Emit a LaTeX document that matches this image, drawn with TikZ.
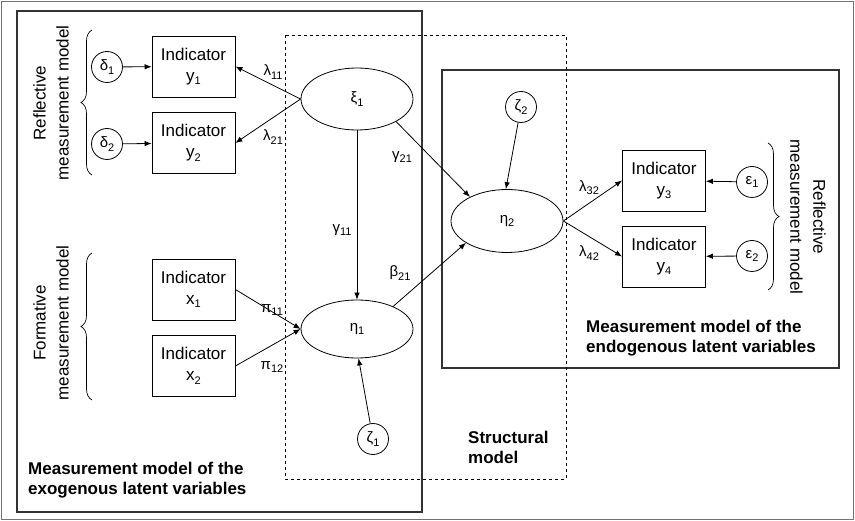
\documentclass[tikz,border=0pt]{standalone}
\usepackage{fontspec}
\setmainfont{Liberation Sans}
\usetikzlibrary{arrows.meta,shapes.geometric,decorations.pathreplacing}
\newcommand\sbs[1]{\raisebox{-0.4ex}{\fontsize{11}{11}\selectfont #1}}
\begin{document}
\begin{tikzpicture}[x=1pt,y=-1pt,
  ind/.style={draw, line width=0.8pt, minimum width=83pt, minimum height=61pt, inner sep=0pt, align=center, font=\fontsize{17}{21}\selectfont},
  err/.style={draw, circle, line width=0.8pt, minimum size=31pt, inner sep=0pt, font=\fontsize{15}{15}\selectfont},
  lat/.style={draw, ellipse, line width=0.8pt, minimum width=112pt, minimum height=62pt, inner sep=0pt, font=\fontsize{15}{15}\selectfont},
  arr/.style={-{Latex[length=7pt,width=5.5pt]}, line width=0.8pt},
  lbl/.style={font=\fontsize{15}{15}\selectfont, inner sep=0pt},
  captxt/.style={font=\bfseries\fontsize{17}{20}\selectfont, align=left, anchor=north west, inner sep=0pt},
  side/.style={font=\fontsize{17}{23}\selectfont, align=center, inner sep=0pt},
  brc/.style={decorate, decoration={brace, amplitude=11pt}, line width=0.7pt},
  frame/.style={draw=black!80, line width=1.2pt}
]
\useasboundingbox (0,0) rectangle (855,521);
\draw[draw=black!55, line width=1.5pt] (1.5,1.5) rectangle (853.5,519.5);
% model boxes
\draw[frame] (17,11) rectangle (422,512);
\draw[frame] (442,70) rectangle (839,368);
\draw[dashed, line width=0.8pt] (285,35) rectangle (566,479);
% indicators
\node[ind] (y1) at (193.5,66.5) {Indicator\\y\sbs{1}};
\node[ind] (y2) at (193.5,143) {Indicator\\y\sbs{2}};
\node[ind] (x1) at (193.5,289.5) {Indicator\\x\sbs{1}};
\node[ind] (x2) at (193.5,366) {Indicator\\x\sbs{2}};
\node[ind] (y3) at (664,180.5) {Indicator\\y\sbs{3}};
\node[ind] (y4) at (664,256.5) {Indicator\\y\sbs{4}};
% errors
\node[err] (d1) at (107,67) {δ\sbs{1}};
\node[err] (d2) at (107,144) {δ\sbs{2}};
\node[err] (e1) at (752,182) {ε\sbs{1}};
\node[err] (e2) at (752,256) {ε\sbs{2}};
\node[err] (z1) at (373,439) {ζ\sbs{1}};
\node[err] (z2) at (521,107) {ζ\sbs{2}};
% latent variables
\node[lat] (xi1) at (357,99) {ξ\sbs{1}};
\node[lat, minimum height=58pt] (eta1) at (357,329) {η\sbs{1}};
\node[lat, minimum height=63pt] (eta2) at (507,221) {η\sbs{2}};
% arrows
\draw[arr] (d1) -- (y1);
\draw[arr] (d2) -- (y2);
\draw[arr] (xi1.west) -- (y1.east);
\draw[arr] (xi1.west) -- (y2.east);
\draw[arr] (xi1.south) -- (eta1.north);
\draw[arr] (xi1.-30) -- (eta2.147);
\draw[arr] (x1.east) -- (eta1.west);
\draw[arr] (x2.east) -- (eta1.west);
\draw[arr] (z1) -- (eta1.-87);
\draw[arr] (eta1.32) -- (eta2.208);
\draw[arr] (z2) -- (eta2.92);
\draw[arr] (eta2.east) -- (y3.west);
\draw[arr] (eta2.east) -- (y4.west);
\draw[arr] (e1) -- (y3);
\draw[arr] (e2) -- (y4);
% path labels
\node[lbl] (l11) at (273,72) {λ\sbs{11}};
\node[lbl] (l21) at (273,137) {λ\sbs{21}};
\node[lbl] (g21) at (402,157) {γ\sbs{21}};
\node[lbl] (g11) at (342,230) {γ\sbs{11}};
\node[lbl] (b21) at (400,273) {β\sbs{21}};
\node[lbl] (p11) at (272,310) {π\sbs{11}};
\node[lbl] (p12) at (272,367) {π\sbs{12}};
\node[lbl] (l32) at (589,188) {λ\sbs{32}};
\node[lbl] (l42) at (589,253) {λ\sbs{42}};
% braces and side texts
\draw[brc] (92,175) -- (92,30);
\draw[brc] (92,400) -- (92,253);
\draw[brc] (768,143) -- (768,290);
\node[side, rotate=90] (refl1) at (51,103) {Reflective\\measurement model};
\node[side, rotate=90] (form) at (51,323) {Formative\\measurement model};
\node[side, rotate=-90] (refl2) at (808,217) {Reflective\\measurement model};
% captions
\node[captxt] (cexo) at (28,462) {Measurement model of the\\exogenous latent variables};
\node[captxt] (cendo) at (586,320) {Measurement model of the\\endogenous latent variables};
\node[captxt] (cstr) at (468,431) {Structural\\model};
\end{tikzpicture}
\end{document}
